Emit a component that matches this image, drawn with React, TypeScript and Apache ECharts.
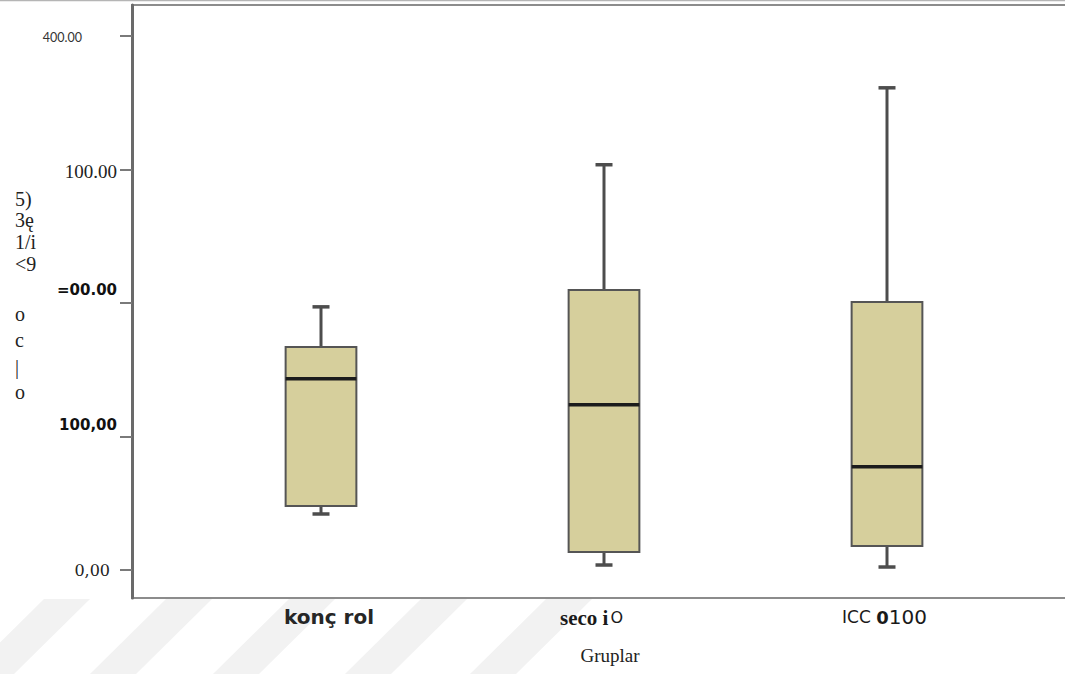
import React, { useEffect, useRef } from "react";
import * as echarts from "echarts";

const categories = ["konç rol", "seco iO", "ICC 0100"];
const whiskerLow = [41.9, 3.7, 2.2];
const q1Values = [47.9, 13.5, 18.0];
const medianValues = [143.1, 123.6, 77.2];
const q3Values = [167.0, 209.7, 200.7];
const whiskerHigh = [197.0, 303.4, 361.0];

const yTickValues = [0, 100, 200, 300, 400];
const yTickLabels = ["0,00", "100,00", "=00.00", "100.00", "400.00"];
const yTitleGlyphs = ["5)", "3ę", "1/i", "<9", "o", "c", "|", "o"];
const yTitleCenters = [199, 220, 242, 264, 314, 340, 367, 392];
const stripeStarts = [-32, 90, 213, 345, 470];

export default function App() {
  const ref = useRef<HTMLDivElement>(null);
  useEffect(() => {
    if (!ref.current) return;
    const chart = echarts.init(ref.current, undefined, { renderer: "svg" });

    const boxData = categories.map((c, i) => [
      i,
      whiskerLow[i],
      q1Values[i],
      medianValues[i],
      q3Values[i],
      whiskerHigh[i],
    ]);

    const serif = "'Liberation Serif', 'DejaVu Serif', serif";
    const sans = "'DejaVu Sans', sans-serif";

    const graphics: any[] = [];
    stripeStarts.forEach((b) => {
      graphics.push({
        type: "polygon",
        z: -1,
        silent: true,
        shape: {
          points: [
            [b, 674],
            [b + 46, 674],
            [b + 46 + 76, 599],
            [b + 76, 599],
          ],
        },
        style: { fill: "#f2f2f2" },
      });
    });
    graphics.push({
      type: "line",
      silent: true,
      shape: { x1: 0, y1: 0.5, x2: 1065, y2: 0.5 },
      style: { stroke: "#b5b5b5", lineWidth: 1.5 },
    });
    graphics.push({
      type: "line",
      silent: true,
      shape: { x1: 131, y1: 5, x2: 1065, y2: 5 },
      style: { stroke: "#8c8c8c", lineWidth: 2 },
    });
    graphics.push({
      type: "line",
      silent: true,
      shape: { x1: 131, y1: 598, x2: 1065, y2: 598 },
      style: { stroke: "#8c8c8c", lineWidth: 2 },
    });
    yTitleGlyphs.forEach((g, i) => {
      graphics.push({
        type: "text",
        silent: true,
        x: 15,
        y: yTitleCenters[i],
        style: {
          text: g,
          fontFamily: serif,
          fontSize: 20,
          fill: "#222222",
          align: "left",
          verticalAlign: "middle",
        },
      });
    });

    const option: any = {
      animation: false,
      backgroundColor: "#ffffff",
      grid: [{ left: 179.5, right: 36.5, top: 5, bottom: 76, containLabel: false }],
      xAxis: [
        {
          type: "category",
          data: categories,
          axisLine: { show: false },
          axisTick: { show: false },
          splitLine: { show: false },
          name: "Gruplar",
          nameLocation: "middle",
          nameGap: 48,
          nameTextStyle: {
            fontFamily: serif,
            fontSize: 19,
            color: "#222",
            padding: [0, 0, 0, 12],
          },
          axisLabel: {
            margin: 9,
            interval: 0,
            formatter: (v: string, i: number) => {
              if (i === 0) return `{k|${v}}`;
              if (i === 1) return `{s|seco i}{so|O}`;
              return `{i|ICC }{z|0}{n|100}`;
            },
            rich: {
              k: {
                fontFamily: sans,
                fontSize: 20,
                fontWeight: "bold",
                color: "#262626",
                padding: [0, 0, 0, 16],
              },
              s: {
                fontFamily: serif,
                fontSize: 21,
                fontWeight: "bold",
                color: "#1a1a1a",
              },
              so: {
                fontFamily: sans,
                fontSize: 16,
                color: "#1a1a1a",
                padding: [0, 25, 0, 2],
              },
              i: {
                fontFamily: sans,
                fontSize: 17,
                color: "#1a1a1a",
              },
              z: {
                fontFamily: sans,
                fontSize: 18,
                fontWeight: "bold",
                color: "#1a1a1a",
              },
              n: {
                fontFamily: sans,
                fontSize: 20,
                color: "#1a1a1a",
                padding: [0, 5, 0, 0],
              },
            },
          },
        },
      ],
      yAxis: [
        {
          type: "value",
          min: -21,
          max: 423,
          offset: 47.5,
          splitLine: { show: false },
          axisLine: { show: true, lineStyle: { color: "#6a6a6a", width: 3 } },
          axisTick: {
            show: true,
            length: 12,
            customValues: yTickValues,
            lineStyle: { color: "#7a7a7a", width: 2 },
          },
          axisLabel: {
            customValues: yTickValues,
            margin: 15,
            formatter: (v: number) => {
              const i = yTickValues.indexOf(v);
              return `{r${i}|${yTickLabels[i]}}`;
            },
            rich: {
              r0: {
                fontFamily: "'DejaVu Serif', serif",
                fontSize: 16,
                color: "#222",
                padding: [2, 7, 0, 0],
              },
              r1: {
                fontFamily: sans,
                fontSize: 15,
                fontWeight: "bold",
                color: "#111",
                padding: [0, 0, 22, 0],
              },
              r2: {
                fontFamily: sans,
                fontSize: 15,
                fontWeight: "bold",
                color: "#111",
                padding: [0, 0, 26, 0],
              },
              r3: {
                fontFamily: serif,
                fontSize: 19,
                color: "#222",
                padding: [4, 0, 0, 0],
              },
              r4: {
                fontFamily: "'Lato', sans-serif",
                fontSize: 12.5,
                color: "#333",
                padding: [4, 35, 0, 0],
              },
            },
          },
        },
      ],
      graphic: graphics,
      series: [
        {
          type: "custom",
          data: boxData,
          encode: { x: 0, y: [1, 2, 3, 4, 5] },
          renderItem: (params: any, api: any) => {
            const idx = api.value(0);
            const pLo = api.coord([idx, api.value(1)]);
            const pQ1 = api.coord([idx, api.value(2)]);
            const pMed = api.coord([idx, api.value(3)]);
            const pQ3 = api.coord([idx, api.value(4)]);
            const pHi = api.coord([idx, api.value(5)]);
            const band = api.size([1, 0])[0];
            const bw = band * 0.25;
            const cx = pMed[0];
            const cap = 8.5;
            const wStyle = { stroke: "#4d4d4d", lineWidth: 3 };
            return {
              type: "group",
              children: [
                {
                  type: "line",
                  shape: { x1: cx, y1: pQ3[1], x2: cx, y2: pHi[1] },
                  style: wStyle,
                },
                {
                  type: "line",
                  shape: { x1: cx, y1: pQ1[1], x2: cx, y2: pLo[1] },
                  style: wStyle,
                },
                {
                  type: "line",
                  shape: { x1: cx - cap, y1: pHi[1], x2: cx + cap, y2: pHi[1] },
                  style: { stroke: "#4d4d4d", lineWidth: 3.5 },
                },
                {
                  type: "line",
                  shape: { x1: cx - cap, y1: pLo[1], x2: cx + cap, y2: pLo[1] },
                  style: { stroke: "#4d4d4d", lineWidth: 3.5 },
                },
                {
                  type: "rect",
                  shape: {
                    x: cx - bw / 2,
                    y: pQ3[1],
                    width: bw,
                    height: pQ1[1] - pQ3[1],
                  },
                  style: { fill: "#d6cf9c", stroke: "#555555", lineWidth: 2 },
                },
                {
                  type: "line",
                  shape: {
                    x1: cx - bw / 2,
                    y1: pMed[1],
                    x2: cx + bw / 2,
                    y2: pMed[1],
                  },
                  style: { stroke: "#1c1c1c", lineWidth: 3.5 },
                },
              ],
            };
          },
        },
      ],
    };

    chart.setOption(option);
    return () => {
      chart.dispose();
    };
  }, []);

  return (
    <div
      ref={ref}
      style={{ position: "fixed", left: 0, top: 0, width: 1065, height: 674, background: "#fff" }}
    />
  );
}
